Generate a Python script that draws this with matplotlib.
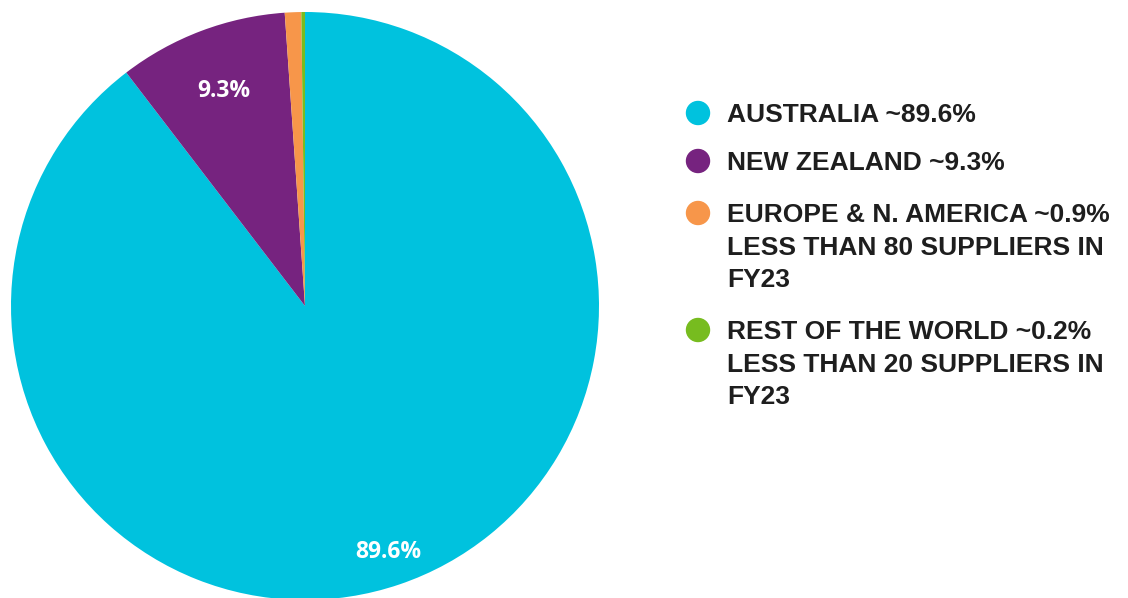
import matplotlib.pyplot as plt
from matplotlib.patches import Ellipse
import numpy as np

regions = ['AUSTRALIA', 'NEW ZEALAND', 'EUROPE & N. AMERICA', 'REST OF THE WORLD']
shares = [89.6, 9.3, 0.9, 0.2]
notes = ['', '', 'LESS THAN 80 SUPPLIERS IN\nFY23', 'LESS THAN 20 SUPPLIERS IN\nFY23']
colors = ['#00C2DE', '#76237F', '#F7964A', '#77BC1F']
pct_labels = ['89.6%', '9.3%', '', '']

fig = plt.figure(figsize=(11.28, 5.98), dpi=100)
W, H = 1128, 598

# pie axes: centre (305,306) px, radius 294 px
cx, cy, r = 305, 306, 294
ax = fig.add_axes([(cx - r) / W, (H - cy - r) / H, 2 * r / W, 2 * r / H])
wedges, _ = ax.pie(shares, colors=colors, startangle=90, counterclock=False,
                   radius=1, wedgeprops=dict(linewidth=0))
ax.set_xlim(-1, 1)
ax.set_ylim(-1, 1)
ax.set_aspect('equal')
ax.axis('off')

# slice labels
dists = [0.885, 0.78, 0, 0]
for w, lab, d in zip(wedges, pct_labels, dists):
    if not lab:
        continue
    ang = np.deg2rad((w.theta1 + w.theta2) / 2)
    ax.text(d * np.cos(ang), d * np.sin(ang), lab, color='white',
            fontsize=16.5, fontweight='bold', family='Open Sans',
            ha='center', va='center')

# legend
ys = [113, 161, 213, 330]
for name, s, note, c, y in zip(regions, shares, notes, colors, ys):
    fig.patches.append(Ellipse((698 / W, 1 - y / H), 23 / W, 23 / H, color=c,
                               transform=fig.transFigure, figure=fig))
    txt = '%s ~%s%%' % (name, s)
    if note:
        txt += '\n' + note
    fig.text(727 / W, 1 - (y - 10) / H, txt, fontsize=19, fontweight='bold',
             family='Liberation Sans', color='#1e1e1e', ha='left', va='top',
             linespacing=1.45)

fig.savefig('out.png', dpi=100, facecolor='white')
